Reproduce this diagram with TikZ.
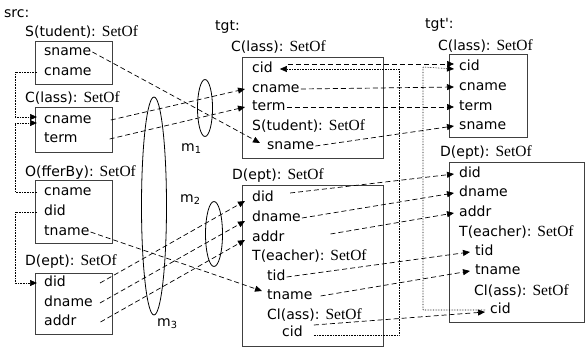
\documentclass[tikz,border=0pt]{standalone}
\usepackage{fontspec}
\setmainfont{DejaVu Sans}
\newfontfamily\setoffont{Liberation Serif}
\usetikzlibrary{arrows.meta,shapes.geometric}
\newcommand{\sof}{{\setoffont\fontsize{15.5}{16}\selectfont SetOf}}
\tikzset{
  fld/.style={
    anchor = west,
    inner sep = 1pt,
    text height = 10pt,
    text depth = 3pt
  },
  tbl/.style={
    draw = black!75,
    line width = 0.9pt
  },
  map/.style={
    dash pattern = on 5pt off 3pt,
    line width = 0.7pt,
    -{Triangle[length=7pt,width=6pt]}
  },
  fkey/.style={
    densely dotted,
    line width = 0.6pt,
    -{Triangle[length=7pt,width=6pt]}
  },
  corr/.style={
    shape = ellipse,
    draw,
    line width = 0.8pt,
    inner sep = 0pt
  },
}

\begin{document}
\begin{tikzpicture}[x=1pt,y=-1pt,font=\fontsize{14}{16}\selectfont]
\useasboundingbox (0,0) rectangle (586,348);
% src
\node[fld] (src) at (3,14) {src:};
\node[fld] (sS) at (24,33) {S(tudent): \sof};
\draw[tbl] (35,41) rectangle (112,84);
\foreach \f/\y in {sname/52,cname/72}
  \node[fld] (s-S-\f) at (43,\y) {\f};
\node[fld] (sC) at (24,99) {C(lass): \sof};
\draw[tbl] (35,107) rectangle (112,152);
\foreach \f/\y in {cname/120,term/139}
  \node[fld] (s-C-\f) at (43,\y) {\f};
\node[fld] (sO) at (24,173) {O(fferBy): \sof};
\draw[tbl] (35,180) rectangle (112,243);
\foreach \f/\y in {cname/192,did/212,tname/232}
  \node[fld] (s-O-\f) at (43,\y) {\f};
\node[fld] (sD) at (24,262) {D(ept): \sof};
\draw[tbl] (35,273) rectangle (112,334);
\foreach \f/\y in {did/283,dname/303,addr/322}
  \node[fld] (s-D-\f) at (43,\y) {\f};

% tgt
\node[fld] (tgt) at (214,27) {tgt:};
\node[fld] (tC) at (230,48) {C(lass): \sof};
\draw[tbl] (242,57) rectangle (383,158);
\foreach \f/\y in {cid/69,cname/89,term/107}
  \node[fld] (t-C-\f) at (251,\y) {\f};
\node[fld] (tS) at (251,127) {S(tudent): \sof};
\node[fld] (t-S-sname) at (266,146) {sname};
\node[fld] (tD) at (231,176) {D(ept): \sof};
\draw[tbl] (242,185) rectangle (383,346);
\foreach \f/\y in {did/198,dname/218,addr/238}
  \node[fld] (t-D-\f) at (251,\y) {\f};
\node[fld] (tT) at (251,257) {T(eacher): \sof};
\foreach \f/\y in {tid/277,tname/296}
  \node[fld] (t-T-\f) at (266,\y) {\f};
\node[fld] (tCl) at (266,316) {Cl(ass): \sof};
\node[fld] (t-Cl-cid) at (281,333) {cid};

% tgt'
\node[fld] (tgt2) at (424,25) {tgt\textquotesingle:};
\node[fld] (t2C) at (437,47) {C(lass): \sof};
\draw[tbl] (449,54) rectangle (527,137);
\foreach \f/\y in {cid/67,cname/87,term/107,sname/126}
  \node[fld] (t2-C-\f) at (458,\y) {\f};
\node[fld] (t2D) at (439,153) {D(ept): \sof};
\draw[tbl] (449,162) rectangle (584,322);
\foreach \f/\y in {did/174,dname/193,addr/213}
  \node[fld] (t2-D-\f) at (458,\y) {\f};
\node[fld] (t2T) at (458,233) {T(eacher): \sof};
\foreach \f/\y in {tid/252,tname/271}
  \node[fld] (t2-T-\f) at (474,\y) {\f};
\node[fld] (t2Cl) at (473,292) {Cl(ass): \sof};
\node[fld] (t2-Cl-cid) at (489,310) {cid};

% correspondences
\node[corr, minimum width=15pt, minimum height=57pt] (m1) at (205,108) {};
\node[fld] (m1l) at (180,148) {m\textsubscript{1}};
\node[corr, minimum width=17pt, minimum height=65pt] (m2) at (214,234) {};
\node[fld] (m2l) at (179,199) {m\textsubscript{2}};
\node[corr, minimum width=25pt, minimum height=218pt] (m3) at (154,206) {};
\node[fld] (m3l) at (156,323) {m\textsubscript{3}};

% src -> tgt
\draw[map] (s-S-sname.east) -- ([xshift=-6pt,yshift=3pt]t-S-sname.west);
\draw[map] ([xshift=18pt]s-C-cname.east) -- ([xshift=-6pt]t-C-cname.west);
\draw[map] ([xshift=31pt]s-C-term.east) -- ([xshift=-6pt]t-C-term.west);
\draw[map] (s-O-tname.east) -- ([xshift=-4pt,yshift=5pt]t-T-tname.west);
\draw[map] ([xshift=33pt]s-D-did.east) -- ([xshift=-6pt,yshift=-3pt]t-D-did.west);
\draw[map] ([xshift=6pt]s-D-dname.east) -- ([xshift=-6pt,yshift=-3pt]t-D-dname.west);
\draw[map] ([xshift=23pt]s-D-addr.east) -- ([xshift=-6pt,yshift=-2pt]t-D-addr.west);

% tgt -> tgt'
\draw[map] ([xshift=14pt,yshift=5pt]t-C-cid.east) -- ([xshift=-4pt,yshift=3pt]t2-C-cid.west);
\draw[map] (t-C-cname.east) -- ([xshift=-4pt]t2-C-cname.west);
\draw[map] (t-C-term.east) -- ([xshift=-4pt]t2-C-term.west);
\draw[map] (t-S-sname.east) -- ([xshift=-4pt]t2-C-sname.west);
\draw[map] ([xshift=15pt,yshift=5pt]t-D-did.east) -- ([xshift=-4pt]t2-D-did.west);
\draw[map] (t-D-dname.east) -- ([xshift=-4pt]t2-D-dname.west);
\draw[map] ([xshift=45pt,yshift=4pt]t-D-addr.east) -- ([xshift=-4pt]t2-D-addr.west);
\draw[map] (t-T-tid.east) -- ([xshift=-4pt]t2-T-tid.west);
\draw[map] ([xshift=7pt]t-T-tname.east) -- ([xshift=-4pt]t2-T-tname.west);
\draw[map] ([xshift=10pt,yshift=8pt]t-Cl-cid.east) -- ([xshift=-4pt,yshift=-2pt]t2-Cl-cid.west);

% keys
\coordinate (sbus) at (15,0);
\coordinate (tbus) at (399,0);
\coordinate (t2bus) at (423,0);
\draw[fkey] ([xshift=-6pt]s-S-cname.west) -- (s-S-cname.west -| sbus) |- ([xshift=-6pt,yshift=3pt]s-C-cname.west);
\draw[fkey] ([xshift=-6pt]s-O-cname.west) -- (s-O-cname.west -| sbus) |- ([xshift=-6pt,yshift=-3pt]s-C-cname.west);
\draw[fkey] ([xshift=-6pt]s-O-did.west) -- (s-O-did.west -| sbus) |- ([xshift=-6pt]s-D-did.west);
\draw[fkey] ([xshift=10pt,yshift=-2pt]t-Cl-cid.east) -| (tbus |- t-C-cid) -- ([xshift=6pt]t-C-cid.east);
\draw[fkey] ([xshift=-4pt]t2-Cl-cid.west) -| (t2bus |- t2-C-cid) -- ([xshift=-4pt,yshift=-2pt]t2-C-cid.west);
\end{tikzpicture}
\end{document}
